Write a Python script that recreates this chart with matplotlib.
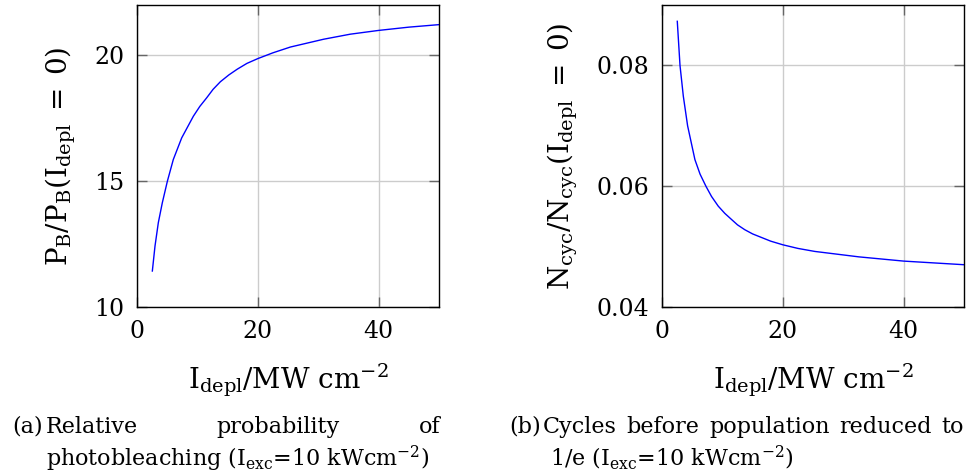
import matplotlib
matplotlib.use("Agg")
import matplotlib.pyplot as plt

# fonts: serif text, upright maths
plt.rcParams['font.family'] = ['DejaVu Serif']
plt.rcParams['mathtext.fontset'] = 'dejavuserif'

# (a) relative probability of photobleaching
x_a = [2.54, 2.98, 3.53, 4.19, 5.02, 6.01, 7.40, 9.33, 10.4, 11.53, 12.6, 13.8, 15.2, 16.6, 18.2, 20.0,
       22.5, 25.4, 30.9, 35.3, 40.0, 45.0, 50.0]
y_a = [11.43, 12.42, 13.35, 14.14, 14.99, 15.86, 16.72, 17.58, 17.97, 18.31, 18.65, 18.95, 19.22, 19.45, 19.68, 19.87,
       20.1, 20.33, 20.64, 20.84, 20.99, 21.12, 21.22]

# (b) cycles before population reduced to 1/e
x_b = [2.53, 2.98, 3.53, 4.24, 5.45, 6.3, 7.27, 8.2, 9.31, 10.4, 11.5, 12.5, 13.7, 15.0, 16.5, 18.0, 20.0,
       22.5, 25.3, 32.6, 40.0, 45.0, 50.0]
y_b = [0.0873, 0.0800, 0.0749, 0.0700, 0.0644, 0.0620, 0.0600, 0.0583, 0.0567, 0.0555, 0.0545, 0.0536, 0.0528,
       0.0521, 0.0515, 0.0509, 0.0503, 0.0497, 0.0492, 0.0483, 0.0476, 0.0473, 0.0470]

xticks = [0, 20, 40]
yticks_a = [10, 15, 20]
yticks_b = [0.04, 0.06, 0.08]
ytick_labels_b = ['0.04', '0.06', '0.08']

xlabel = r'$\mathrm{I_{depl}/MW\ cm^{-2}}$'
ylabel_a = r'$\mathrm{P_B/P_B(I_{depl}}\;=\;0)$'
ylabel_b = r'$\mathrm{N_{cyc}/N_{cyc}(I_{depl}}\;=\;0)$'

caption_a1 = ['(a)', 'Relative', 'probability', 'of']
caption_a2 = r'photobleaching ($\mathrm{I_{exc}}$=10 kWcm$^{-2}$)'
caption_b1 = ['(b)', 'Cycles', 'before', 'population', 'reduced', 'to']
caption_b2 = r'1/e ($\mathrm{I_{exc}}$=10 kWcm$^{-2}$)'

W, H = 976, 475
fig = plt.figure(figsize=(W / 100, H / 100), dpi=100)

def px_axes(left, top, right, bottom):
    return fig.add_axes([left / W, 1 - bottom / H, (right - left) / W, (bottom - top) / H])

ax1 = px_axes(137, 5, 439, 307)
ax2 = px_axes(662, 5, 964, 307)

for ax in (ax1, ax2):
    ax.set_xlim(0, 50)
    ax.set_xticks(xticks)
    ax.grid(True, color='#cccccc', linewidth=1.0)
    ax.set_axisbelow(True)
    ax.tick_params(direction='in', length=7, width=1.0, color='#666666',
                   top=True, right=True, labelsize=17, pad=9)
    for sp in ax.spines.values():
        sp.set_linewidth(1.0)
    ax.set_xlabel(xlabel, fontsize=20, labelpad=14)

ax1.plot(x_a, y_a, color='#0000ff', linewidth=1.0)
ax1.set_ylim(10, 22)
ax1.set_yticks(yticks_a)
ax1.set_ylabel(ylabel_a, fontsize=20, labelpad=12)

ax2.plot(x_b, y_b, color='#0000ff', linewidth=1.0)
ax2.set_ylim(0.04, 0.09)
ax2.set_yticks(yticks_b)
ax2.set_yticklabels(ytick_labels_b)
ax2.set_ylabel(ylabel_b, fontsize=20, labelpad=12)

# captions: label, then justified first line, hanging indent second line
cap_fs = 16
y1 = 1 - 433 / H
y2 = 1 - 466 / H
renderer = fig.canvas.get_renderer()

def justified(words, label_x, left, right, y):
    fig.text(label_x / W, y, words[0], fontsize=cap_fs, va='baseline')
    texts = [fig.text(0, y, w, fontsize=cap_fs, va='baseline') for w in words[1:]]
    widths = [t.get_window_extent(renderer).width for t in texts]
    gap = (right - left - sum(widths)) / max(len(texts) - 1, 1)
    x = left
    for t, w in zip(texts, widths):
        t.set_x(x / W)
        x += w + gap

justified(caption_a1, 12, 46, 440, y1)
fig.text(46 / W, y2, caption_a2, fontsize=cap_fs, va='baseline')
justified(caption_b1, 509, 543, 964, y1)
fig.text(550 / W, y2, caption_b2, fontsize=cap_fs, va='baseline')

fig.savefig('out.png', dpi=100)
